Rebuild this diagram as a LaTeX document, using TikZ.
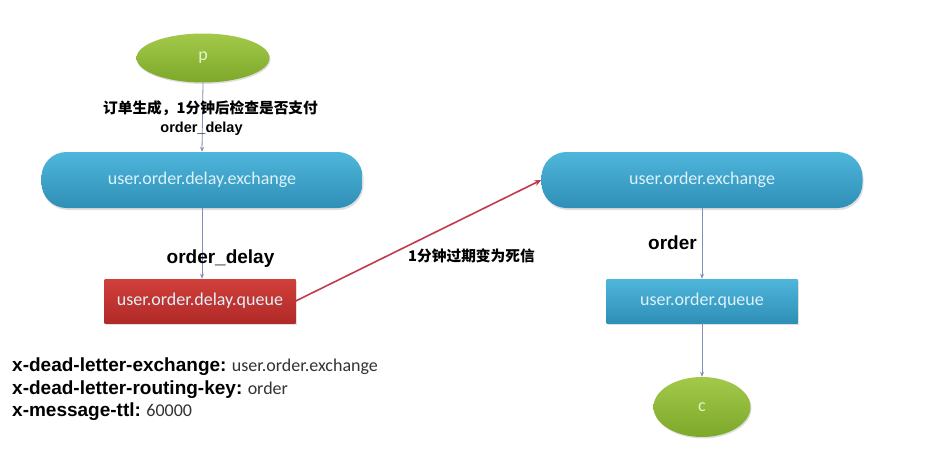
\documentclass[tikz,border=0pt]{standalone}
\usepackage{fontspec}
\setmainfont{Carlito}
\newfontfamily\arialf{Liberation Sans}
\newfontfamily\cjk{Noto Sans CJK SC}
\usetikzlibrary{arrows.meta,shapes.geometric,shadows}
\definecolor{grnT}{HTML}{A3C94A}
\definecolor{grnB}{HTML}{7DA82A}
\definecolor{bluT}{HTML}{4FB6DB}
\definecolor{bluB}{HTML}{2F8FB6}
\definecolor{redT}{HTML}{D13F3A}
\definecolor{redB}{HTML}{B02A28}
\definecolor{boxtxt}{HTML}{DDF2FB}
\definecolor{ptxt}{HTML}{E4F5C8}
\definecolor{linec}{HTML}{7F8FB5}
\definecolor{redline}{HTML}{C23A4E}
\definecolor{valtxt}{HTML}{333333}
\tikzset{
  greenell/.style={ellipse, inner sep=0pt, top color=grnT, bottom color=grnB, draw=none,
    drop shadow={shadow xshift=1pt, shadow yshift=-1.5pt, opacity=0.25}, text=ptxt, font=\fontsize{18}{20}\selectfont},
  exbox/.style={rectangle, rounded corners=25pt, minimum width=321pt, minimum height=56pt, inner sep=0pt,
    top color=bluT, bottom color=bluB, draw=none, text=boxtxt, font=\fontsize{18}{20}\selectfont,
    drop shadow={shadow xshift=1pt, shadow yshift=-2pt, opacity=0.25}},
  qbox/.style={rectangle, minimum width=191pt, minimum height=44pt, inner sep=0pt, draw=none,
    text=boxtxt, font=\fontsize{18}{20}\selectfont,
    drop shadow={shadow xshift=1pt, shadow yshift=-1.5pt, opacity=0.25}},
  conn/.style={draw=linec, line width=0.8pt, -{Stealth[length=5pt,width=4pt]}},
  redconn/.style={draw=redline, line width=1.6pt, -{Stealth[length=7pt,width=6pt]}},
  cjklab/.style={font=\cjk\bfseries\fontsize{14.7}{16}\selectfont, inner sep=0pt},
  boldlab/.style={font=\arialf\bfseries\fontsize{19}{21}\selectfont, inner sep=0pt},
  smalllab/.style={font=\arialf\bfseries\fontsize{14.5}{16}\selectfont, inner sep=0pt},
  proplab/.style={anchor=west, inner sep=0pt, text=valtxt, font=\fontsize{18}{20}\selectfont}
}
\newcommand{\propkey}[1]{{\color{black}\arialf\bfseries\fontsize{19}{21}\selectfont #1}}
\begin{document}
\begin{tikzpicture}[x=1pt,y=-1pt]
\fill[white] (0,0) rectangle (932,458);
\useasboundingbox (0,0) rectangle (932,458);

\node[greenell, minimum width=133pt, minimum height=49pt] (p) at (203,58) {p};
\node[exbox] (dex) at (202,180) {user.order.delay.exchange};
\node[qbox, top color=redT, bottom color=redB] (dq) at (200,301) {user.order.delay.queue};
\node[exbox] (ex) at (702,180) {user.order.exchange};
\node[qbox, top color=bluT, bottom color=bluB] (oq) at (702,301) {user.order.queue};
\node[greenell, minimum width=97pt, minimum height=60pt] (c) at (702,407) {c};

\draw[conn] (p.south) -- (dex.north);
\draw[conn] (dex.south -| 202,0) -- (dq.north -| 202,0);
\draw[redconn] (dq.east) -- (ex.west);
\draw[conn] (ex.south) -- (oq.north);
\draw[conn] (oq.south) -- (c.north);

\node[cjklab] (l1) at (210.5,108) {订单生成，1分钟后检查是否支付};
\node[smalllab] (l2) at (201.5,129) {order\_delay};
\node[boldlab] (l3) at (220.5,259) {order\_delay};
\node[cjklab] (l4) at (471.5,256) {1分钟过期变为死信};
\node[boldlab] (l5) at (672.5,243) {order};

\node[proplab] (a1) at (12,367) {\propkey{x-dead-letter-exchange:} user.order.exchange};
\node[proplab] (a2) at (12,390) {\propkey{x-dead-letter-routing-key:} order};
\node[proplab] (a3) at (12,412) {\propkey{x-message-ttl:} 60000};
\end{tikzpicture}
\end{document}
